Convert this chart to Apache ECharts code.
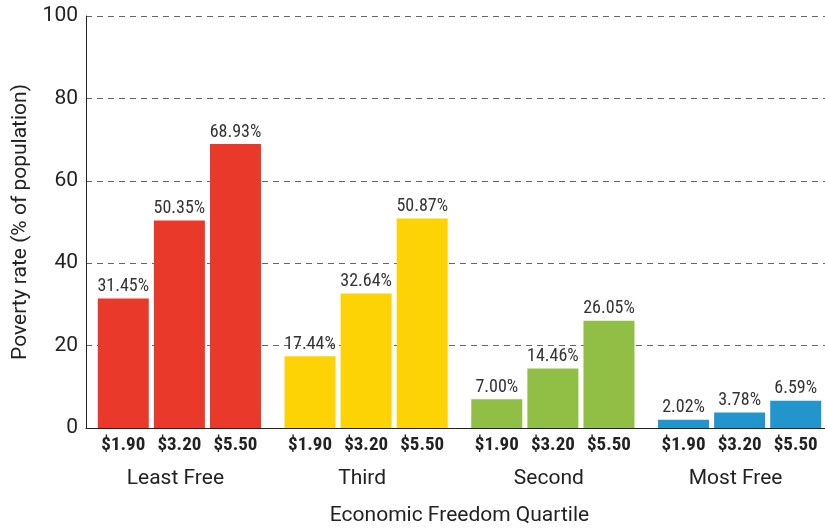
<!DOCTYPE html>
<html>
<head>
<meta charset="utf-8">
<title>Poverty rate by economic freedom quartile</title>
<script src="https://cdn.jsdelivr.net/npm/echarts@6/dist/echarts.min.js"></script>
<style>
	html, body { margin: 0; padding: 0; background: #fff; }
	#chart { width: 825px; height: 528px; }
</style>
</head>
<body>
<div id="chart"></div>
<script>
	'use strict'

	/*-----data-----*/
	var groups = ['Least Free', 'Third', 'Second', 'Most Free'];
	var povertyLines = ['$1.90', '$3.20', '$5.50'];
	var rate190 = [31.45, 17.44, 7.00, 2.02];
	var rate320 = [50.35, 32.64, 14.46, 3.78];
	var rate550 = [68.93, 50.87, 26.05, 6.59];
	var yTicks = [0, 20, 40, 60, 80, 100];
	var groupColors = ['#e8392b', '#fdd306', '#91bf45', '#2295cc'];

	var rates = [rate190, rate320, rate550];
	var sansFont = 'Roboto, "Noto Sans", sans-serif';
	var narrowFont = '"Roboto Condensed", "Liberation Sans Narrow", "DejaVu Sans Condensed", sans-serif';

	var series = [];
	rates.forEach(function(vals, i) {
		series.push({
			name: povertyLines[i],
			type: 'bar',
			xAxisIndex: 0,
			barWidth: 51,
			barGap: '10%',
			data: vals.map(function(v, g) {
				return { value: v, itemStyle: { color: groupColors[g] } };
			}),
			label: {
				show: true,
				position: 'top',
				distance: 3,
				fontFamily: narrowFont,
				fontSize: 18,
				color: '#333',
				formatter: function(p) { return p.value.toFixed(2) + '%'; }
			}
		});
	});
	// transparent copies, only to carry the poverty line labels under each bar
	rates.forEach(function(vals, i) {
		series.push({
			type: 'bar',
			xAxisIndex: 1,
			barWidth: 51,
			barGap: '10%',
			silent: true,
			data: vals,
			itemStyle: { color: 'transparent' },
			label: {
				show: true,
				position: 'bottom',
				distance: 8,
				fontFamily: narrowFont,
				fontWeight: 'bold',
				fontSize: 19,
				color: '#222',
				formatter: povertyLines[i]
			}
		});
	});

	var chart = echarts.init(document.getElementById('chart'));
	var option = {
		animation: false,
		grid: {
			left: 86,
			top: 16,
			width: 747,
			height: 412,
			outerBoundsMode: 'none',
			containLabel: false
		},
		xAxis: [{
			type: 'category',
			data: groups,
			name: 'Economic Freedom Quartile',
			nameLocation: 'middle',
			nameGap: 77,
			nameTextStyle: { fontFamily: sansFont, fontSize: 21, color: '#222' },
			axisLine: { lineStyle: { color: '#222', width: 1 } },
			axisTick: { show: false },
			axisLabel: {
				margin: 40,
				padding: [0, 8, 0, 0],
				fontFamily: sansFont,
				fontSize: 21,
				color: '#222'
			}
		}, {
			type: 'category',
			data: groups,
			show: false
		}],
		yAxis: {
			type: 'value',
			min: yTicks[0],
			max: yTicks[yTicks.length - 1],
			interval: yTicks[1] - yTicks[0],
			name: 'Poverty rate (% of population)',
			nameLocation: 'middle',
			nameGap: 50,
			nameTextStyle: { fontFamily: sansFont, fontSize: 21, color: '#222' },
			axisLine: { show: true, lineStyle: { color: '#222', width: 1 } },
			axisTick: { show: false },
			axisLabel: {
				margin: 8,
				fontFamily: sansFont,
				fontSize: 21,
				color: '#222'
			},
			splitLine: {
				lineStyle: { color: '#666', type: [6, 5], width: 1 }
			}
		},
		series: series
	};
	chart.setOption(option);
</script>
</body>
</html>
